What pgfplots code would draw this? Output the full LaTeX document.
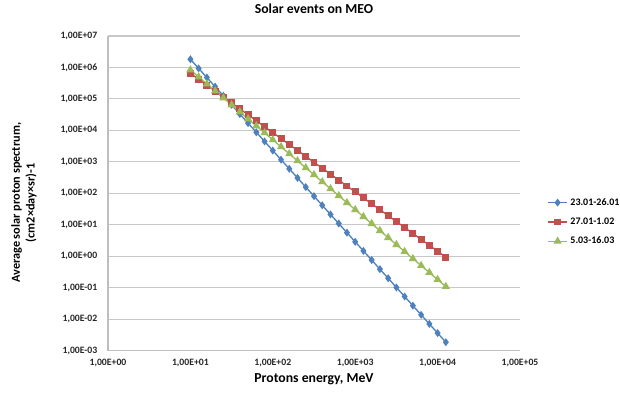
\documentclass[border=0pt]{standalone}
\usepackage{fontspec}
\setmainfont{Carlito}
\usepackage{pgfplots}
\pgfplotsset{compat=1.18}
\definecolor{sBlue}{HTML}{4F81BD}
\definecolor{sRed}{HTML}{C0504D}
\definecolor{sGreen}{HTML}{9BBB59}
\definecolor{gridc}{RGB}{200,200,200}
\definecolor{axc}{RGB}{190,190,190}
\begin{document}
\begin{tikzpicture}
\begin{axis}[
  scale only axis,
  width=309pt, height=236pt,
  xmode=log, ymode=log,
  xmin=1, xmax=1e5, ymin=1e-3, ymax=1e7,
  xtick={1,10,100,1000,10000,100000},
  xticklabels={{1,00E+00},{1,00E+01},{1,00E+02},{1,00E+03},{1,00E+04},{1,00E+05}},
  ytick={1e-3,1e-2,1e-1,1,10,100,1000,1e4,1e5,1e6,1e7},
  yticklabels={{1,00E-03},{1,00E-02},{1,00E-01},{1,00E+00},{1,00E+01},{1,00E+02},{1,00E+03},{1,00E+04},{1,00E+05},{1,00E+06},{1,00E+07}},
  xminorticks=false, yminorticks=false,
  major tick length=0pt,
  ymajorgrids,
  grid style={gridc, line width=0.8pt},
  axis x line*=bottom, axis y line*=left,
  axis line style={-, axc, line width=0.8pt},
  tick label style={font=\bfseries\fontsize{7.3}{8}\selectfont, text=black!85},
  xticklabel style={yshift=-2.5pt},
  yticklabel style={xshift=-4.5pt},
  title={Solar events on MEO},
  title style={font=\bfseries\fontsize{10.3}{12}\selectfont, at={(axis description cs:0.5,1.060)}, anchor=center},
  xlabel={Protons energy, MeV},
  xlabel style={font=\bfseries\fontsize{10.3}{12}\selectfont, at={(axis description cs:0.5,-0.092)}, anchor=center},
  ylabel={Average solar proton spectrum,\\(cm2×day×sr)-1},
  ylabel style={font=\bfseries\fontsize{9.2}{11}\selectfont, align=center, at={(axis description cs:-0.204,0.47)}, anchor=center},
  legend style={draw=none, fill=none, at={(axis description cs:1.066,0.409)}, anchor=west,
    font=\bfseries\fontsize{7.5}{9}\selectfont, row sep=4pt, inner xsep=0pt, cells={anchor=west}},
  legend image code/.code={\draw[mark repeat=2,mark phase=2,#1] plot coordinates {(0cm,0cm) (0.25cm,0cm) (0.5cm,0cm)};},
  clip=false,
]
\coordinate (bl) at (rel axis cs:0,0);
\coordinate (tr) at (rel axis cs:1,1);
\addplot[sBlue, line width=1pt, mark=diamond*, mark size=2.2pt, mark options={solid}] coordinates {
(10,1.82e6)(12.59,9.33e5)(15.85,4.79e5)(19.95,2.45e5)(25.12,1.26e5)(31.62,6.46e4)(39.81,3.31e4)(50.12,1.70e4)
(63.10,8.71e3)(79.43,4.47e3)(100,2.29e3)(125.9,1.17e3)(158.5,603)(199.5,309)(251.2,158)(316.2,81.3)
(398.1,41.7)(501.2,21.4)(631.0,11.0)(794.3,5.62)(1000,2.88)(1259,1.48)(1585,0.759)(1995,0.389)
(2512,0.200)(3162,0.102)(3981,0.0525)(5012,0.0269)(6310,0.0138)(7943,0.00708)(10000,0.00363)(12589,0.00186)
};
\addlegendentry{23.01-26.01}
\addplot[sRed, line width=1pt, mark=square*, mark size=2.1pt, mark options={solid}] coordinates {
(10,6.53e5)(12.59,4.23e5)(15.85,2.74e5)(19.95,1.78e5)(25.12,1.15e5)(31.62,7.46e4)(39.81,4.83e4)(50.12,3.13e4)
(63.10,2.03e4)(79.43,1.31e4)(100,8.51e3)(125.9,5.51e3)(158.5,3.57e3)(199.5,2.31e3)(251.2,1.50e3)(316.2,972)
(398.1,630)(501.2,408)(631.0,264)(794.3,171)(1000,111)(1259,71.9)(1585,46.6)(1995,30.2)
(2512,19.5)(3162,12.7)(3981,8.20)(5012,5.31)(6310,3.44)(7943,2.23)(10000,1.45)(12589,0.936)
};
\addlegendentry{27.01-1.02}
\addplot[sGreen, line width=1pt, mark=triangle*, mark size=2.6pt, mark options={solid}] coordinates {
(10,8.32e5)(12.59,4.99e5)(15.85,2.99e5)(19.95,1.79e5)(25.12,1.08e5)(31.62,6.46e4)(39.81,3.87e4)(50.12,2.32e4)
(63.10,1.39e4)(79.43,8.36e3)(100,5.01e3)(125.9,3.01e3)(158.5,1.80e3)(199.5,1.08e3)(251.2,649)(316.2,389)
(398.1,233)(501.2,140)(631.0,83.9)(794.3,50.4)(1000,30.2)(1259,18.1)(1585,10.9)(1995,6.52)
(2512,3.91)(3162,2.34)(3981,1.41)(5012,0.843)(6310,0.506)(7943,0.303)(10000,0.182)(12589,0.109)
};
\addlegendentry{5.03-16.03}
\end{axis}
\pgfresetboundingbox
\path ([shift={(-81pt,-31pt)}]bl) rectangle ([shift={(75pt,27pt)}]tr);
\end{tikzpicture}
\end{document}
